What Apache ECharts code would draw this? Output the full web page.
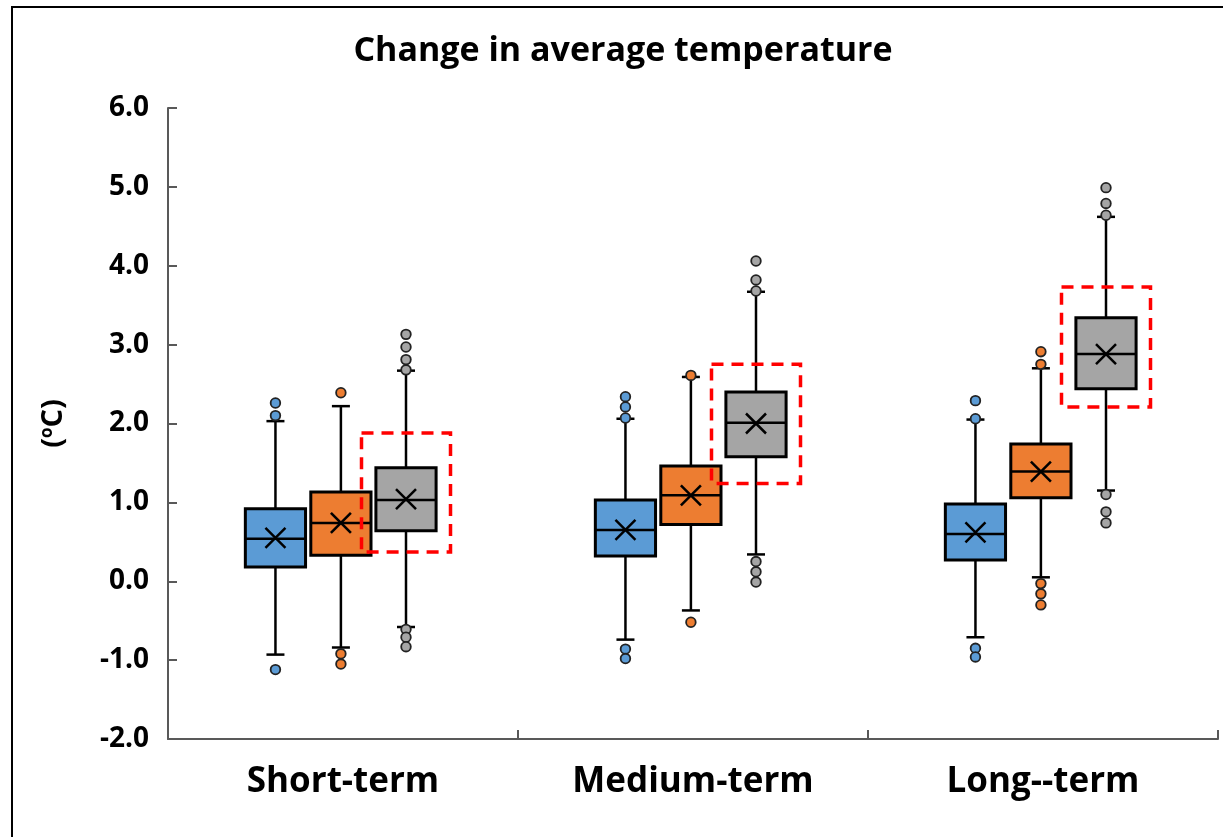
<!DOCTYPE html>
<html>
<head>
<meta charset="utf-8">
<script src="https://cdn.jsdelivr.net/npm/echarts@6/dist/echarts.min.js"></script>
<style>
html,body{margin:0;padding:0;background:#fff;}
#chart{width:1223px;height:837px;}
</style>
</head>
<body>
<div id="chart"></div>
<script>
// ---------------- DATA ----------------
const categories = ['Short-term', 'Medium-term', 'Long--term'];
const titleText = 'Change in average temperature';
const yAxisName = '({sup|o}C)';
const yMin = -2, yMax = 6, yStep = 1;

// [whisker low, Q1, median, Q3, whisker high] per category
const blueStats = [
  [-0.93, 0.18, 0.54, 0.92, 2.03],
  [-0.74, 0.32, 0.65, 1.03, 2.06],
  [-0.71, 0.27, 0.60, 0.98, 2.05]
];
const blueMeans = [0.55, 0.65, 0.62];
const blueOutliers = [
  [2.26, 2.10, -1.12],
  [2.34, 2.21, 2.07, -0.86, -0.98],
  [2.29, 2.06, -0.85, -0.96]
];

const orangeStats = [
  [-0.84, 0.33, 0.74, 1.13, 2.22],
  [-0.37, 0.72, 1.09, 1.46, 2.59],
  [0.05, 1.06, 1.39, 1.74, 2.70]
];
const orangeMeans = [0.74, 1.09, 1.39];
const orangeOutliers = [
  [2.39, -0.92, -1.05],
  [2.61, -0.52],
  [2.91, 2.75, -0.03, -0.16, -0.30]
];

const grayStats = [
  [-0.58, 0.64, 1.03, 1.44, 2.67],
  [0.34, 1.58, 2.01, 2.40, 3.67],
  [1.15, 2.44, 2.88, 3.34, 4.62]
];
const grayMeans = [1.04, 2.00, 2.88];
const grayOutliers = [
  [3.13, 2.97, 2.81, 2.68, -0.61, -0.71, -0.83],
  [4.06, 3.82, 3.68, 0.25, 0.12, -0.01],
  [4.99, 4.79, 4.64, 1.10, 0.88, 0.74]
];

// highlighted ranges (dashed red frames) around the third box: [low, high]
const highlightRanges = [
  [0.37, 1.88],
  [1.24, 2.75],
  [2.21, 3.73]
];

// ---------------- STYLE ----------------
const FONT = '"Open Sans", Lato, sans-serif';
const AXIS_COLOR = '#595959';
const groups = [
  { stats: blueStats, means: blueMeans, outliers: blueOutliers, color: '#5B9BD5', offset: -0.193 },
  { stats: orangeStats, means: orangeMeans, outliers: orangeOutliers, color: '#ED7D31', offset: -0.006 },
  { stats: grayStats, means: grayMeans, outliers: grayOutliers, color: '#A5A5A5', offset: 0.18 }
];
const BOX_FRAC = 0.172;

function boxRender(offset, fill) {
  return function (params, api) {
    const cat = api.value(0);
    const band = api.size([1, 0])[0];
    const cx = api.coord([cat, 0])[0] + offset * band;
    const Y = v => api.coord([cat, v])[1];
    const low = Y(api.value(1)), q1 = Y(api.value(2)), med = Y(api.value(3)),
          q3 = Y(api.value(4)), high = Y(api.value(5)), mean = Y(api.value(6));
    const hw = BOX_FRAC * band / 2;
    const cap = 9, xs = 10;
    const ls = { stroke: '#000', lineWidth: 2.5 };
    return {
      type: 'group',
      children: [
        { type: 'line', shape: { x1: cx, y1: high, x2: cx, y2: q3 }, style: ls },
        { type: 'line', shape: { x1: cx, y1: q1, x2: cx, y2: low }, style: ls },
        { type: 'line', shape: { x1: cx - cap, y1: high, x2: cx + cap, y2: high }, style: ls },
        { type: 'line', shape: { x1: cx - cap, y1: low, x2: cx + cap, y2: low }, style: ls },
        { type: 'rect', shape: { x: cx - hw, y: q3, width: 2 * hw, height: q1 - q3 },
          style: { fill: fill, stroke: '#000', lineWidth: 3 } },
        { type: 'line', shape: { x1: cx - hw, y1: med, x2: cx + hw, y2: med }, style: ls },
        { type: 'line', shape: { x1: cx - xs, y1: mean - xs, x2: cx + xs, y2: mean + xs }, style: { stroke: '#000', lineWidth: 2.5 } },
        { type: 'line', shape: { x1: cx - xs, y1: mean + xs, x2: cx + xs, y2: mean - xs }, style: { stroke: '#000', lineWidth: 2.5 } }
      ]
    };
  };
}

function outlierRender(offset, fill) {
  return function (params, api) {
    const cat = api.value(0);
    const band = api.size([1, 0])[0];
    const p = api.coord([cat, api.value(1)]);
    return {
      type: 'circle',
      shape: { cx: p[0] + offset * band, cy: p[1], r: 4.8 },
      style: { fill: fill, stroke: '#222', lineWidth: 1.8 }
    };
  };
}

function highlightRender(params, api) {
  const cat = api.value(0);
  const band = api.size([1, 0])[0];
  const cx = api.coord([cat, 0])[0] + groups[2].offset * band;
  const top = api.coord([cat, api.value(2)])[1];
  const bot = api.coord([cat, api.value(1)])[1];
  const hw = 44.5;
  return {
    type: 'rect',
    shape: { x: cx - hw, y: top, width: 2 * hw, height: bot - top },
    style: { fill: 'none', stroke: '#FF0000', lineWidth: 3.5, lineDash: [12, 8] }
  };
}

const series = [];
groups.forEach((g, gi) => {
  series.push({
    type: 'custom',
    name: 'box' + gi,
    renderItem: boxRender(g.offset, g.color),
    encode: { x: 0, y: [1, 2, 3, 4, 5, 6] },
    data: g.stats.map((s, i) => [i, s[0], s[1], s[2], s[3], s[4], g.means[i]]),
    z: 2,
    silent: true
  });
  const od = [];
  g.outliers.forEach((arr, i) => arr.forEach(v => od.push([i, v])));
  series.push({
    type: 'custom',
    name: 'out' + gi,
    renderItem: outlierRender(g.offset, g.color),
    encode: { x: 0, y: 1 },
    data: od,
    z: 3,
    silent: true
  });
});
series.push({
  type: 'custom',
  name: 'highlight',
  renderItem: highlightRender,
  encode: { x: 0, y: [1, 2] },
  data: highlightRanges.map((r, i) => [i, r[0], r[1]]),
  z: 5,
  silent: true
});

const chart = echarts.init(document.getElementById('chart'), null, { renderer: 'canvas' });
chart.setOption({
  animation: false,
  backgroundColor: '#fff',
  grid: { left: 168, right: 5, top: 108, bottom: 98, containLabel: false },
  graphic: [
    { type: 'rect', shape: { x: 12, y: 7, width: 1300, height: 900 },
      style: { fill: 'none', stroke: '#000', lineWidth: 2 }, z: 0, silent: true },
    { type: 'text', x: 623, y: 51, z: 10,
      style: { text: titleText, font: 'bold 34px ' + FONT, fill: '#000',
               textAlign: 'center', textVerticalAlign: 'middle' } }
  ],
  xAxis: {
    type: 'category',
    data: categories,
    boundaryGap: true,
    axisLine: { show: true, onZero: false, lineStyle: { color: AXIS_COLOR, width: 2 } },
    axisTick: { show: true, inside: true, length: 9, lineStyle: { color: AXIS_COLOR, width: 2 } },
    axisLabel: { color: '#000', fontFamily: FONT, fontWeight: 'bold', fontSize: 35, margin: 26 },
    splitLine: { show: false }
  },
  yAxis: {
    type: 'value',
    min: yMin, max: yMax, interval: yStep,
    name: yAxisName,
    nameLocation: 'middle',
    nameRotate: 90,
    nameGap: 100,
    nameTextStyle: {
      color: '#000', fontFamily: FONT, fontWeight: 'bold', fontSize: 29,
      rich: {
        sup: { color: '#000', fontFamily: FONT, fontWeight: 'bold', fontSize: 17,
               verticalAlign: 'top', padding: [0, 0, 11, 0] }
      }
    },
    axisLine: { show: true, lineStyle: { color: AXIS_COLOR, width: 2 } },
    axisTick: { show: true, inside: true, length: 9, lineStyle: { color: AXIS_COLOR, width: 2 } },
    axisLabel: { color: '#000', fontFamily: FONT, fontWeight: 'bold', fontSize: 28, margin: 19,
                 formatter: v => v.toFixed(1) },
    splitLine: { show: false }
  },
  series: series
});
</script>
</body>
</html>
